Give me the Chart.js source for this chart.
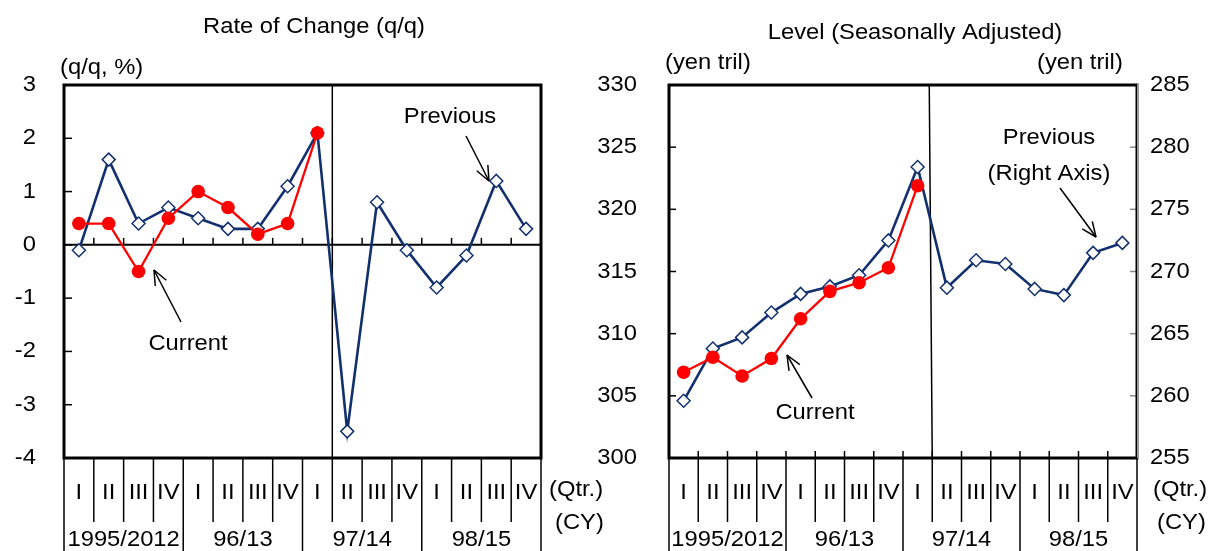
<!DOCTYPE html>
<html>
<head>
<meta charset="utf-8">
<script src="https://cdn.jsdelivr.net/npm/chart.js@4.4.1/dist/chart.umd.min.js"></script>
<style>
  body { margin: 0; background: #fff; }
  #wrap { position: relative; width: 1212px; height: 551px; }
  #wrap canvas { position: absolute; left: 0; top: 0; }
</style>
</head>
<body>
<div id="wrap">
  <canvas id="rateChart" width="1212" height="551"></canvas>
  <canvas id="levelChart" width="1212" height="551"></canvas>
</div>
<script>
const quarters = ['I', 'II', 'III', 'IV', 'I', 'II', 'III', 'IV', 'I', 'II', 'III', 'IV', 'I', 'II', 'III', 'IV'];
const years = ['1995/2012', '96/13', '97/14', '98/15'];

// rate of change (q/q, %)
const rateCurrent = [0.4, 0.4, -0.5, 0.5, 1.0, 0.7, 0.2, 0.4, 2.1];
const ratePrevious = [-0.1, 1.6, 0.4, 0.7, 0.5, 0.3, 0.3, 1.1, 2.1, -3.5, 0.8, -0.1, -0.8, -0.2, 1.2, 0.3];
const rateTicks = [3, 2, 1, 0, -1, -2, -3, -4];

// level, yen tril (current on left axis, previous on right axis)
const levelCurrent = [306.9, 308.1, 306.6, 308.0, 311.2, 313.4, 314.1, 315.3, 321.9];
const levelPrevious = [259.6, 263.8, 264.7, 266.7, 268.2, 268.8, 269.7, 272.5, 278.4, 268.7, 270.9, 270.6, 268.6, 268.1, 271.5, 272.3];
const levelLeftTicks = [330, 325, 320, 315, 310, 305, 300];
const levelRightTicks = [285, 280, 275, 270, 265, 260, 255];

const NAVY = '#12306e';
const RED = '#ff0000';
const FONT = '22px "Liberation Sans", Arial, sans-serif';

function txt(ctx, s, x, y, align) {
  ctx.save();
  ctx.font = FONT;
  ctx.fillStyle = '#000';
  ctx.textBaseline = 'middle';
  ctx.textAlign = align || 'center';
  ctx.translate(x, y);
  ctx.scale(1.08, 1);
  ctx.fillText(s, 0, 0);
  ctx.restore();
}

function line(ctx, x1, y1, x2, y2, w, color) {
  ctx.save();
  ctx.strokeStyle = color || '#000';
  ctx.lineWidth = w;
  ctx.beginPath();
  ctx.moveTo(x1, y1);
  ctx.lineTo(x2, y2);
  ctx.stroke();
  ctx.restore();
}

// open arrow head at (x2, y2)
function arrow(ctx, x1, y1, x2, y2) {
  const a = Math.atan2(y2 - y1, x2 - x1);
  const h = 16;
  line(ctx, x1, y1, x2, y2, 1.5);
  line(ctx, x2, y2, x2 - h * Math.cos(a - 0.4), y2 - h * Math.sin(a - 0.4), 1.5);
  line(ctx, x2, y2, x2 - h * Math.cos(a + 0.4), y2 - h * Math.sin(a + 0.4), 1.5);
}

function edges(x) {
  const step = x.getPixelForValue(1) - x.getPixelForValue(0);
  const start = x.getPixelForValue(0) - step / 2;
  return quarters.map((q, i) => start + i * step).concat(start + quarters.length * step);
}

function drawBand(ctx, x, a) {
  const e = edges(x);
  e.forEach((px, i) => line(ctx, px, a.bottom, px, i % 4 === 0 ? 551 : 522, 1.5));
  quarters.forEach((q, i) => txt(ctx, q, x.getPixelForValue(i), 493));
  years.forEach((yr, g) => txt(ctx, yr, (e[g * 4] + e[g * 4 + 4]) / 2, 540));
}

const rateFrame = {
  id: 'rateFrame',
  beforeDatasetsDraw(chart) {
    const {ctx, chartArea: a, scales: {x, y}} = chart;
    const e = edges(x);
    const y0 = y.getPixelForValue(0);
    line(ctx, a.left, y0, a.right, y0, 2);
    e.slice(1, -1).forEach(px => line(ctx, px, y0, px, y0 - 7, 1.5));
    rateTicks.forEach(v => line(ctx, a.left, y.getPixelForValue(v), a.left + 8, y.getPixelForValue(v), 1.5));
    line(ctx, e[9], a.top, e[9], a.bottom, 1.5);
    ctx.save();
    ctx.lineWidth = 3;
    ctx.strokeStyle = '#000';
    ctx.strokeRect(a.left, a.top, a.width, a.height);
    ctx.restore();
  },
  afterDraw(chart) {
    const {ctx, chartArea: a, scales: {x, y}} = chart;
    rateTicks.forEach(v => txt(ctx, String(v), 36, y.getPixelForValue(v), 'right'));
    drawBand(ctx, x, a);
    txt(ctx, 'Rate of Change (q/q)', 314, 27);
    txt(ctx, '(q/q, %)', 60, 68, 'left');
    txt(ctx, '(Qtr.)', 549, 490, 'left');
    txt(ctx, '(CY)', 555, 523, 'left');
    txt(ctx, 'Previous', 450, 117);
    arrow(ctx, 466, 136, 489, 181);
    txt(ctx, 'Current', 188, 344);
    arrow(ctx, 181, 322, 154, 270);
  }
};

const levelFrame = {
  id: 'levelFrame',
  beforeDatasetsDraw(chart) {
    const {ctx, chartArea: a, scales: {x, yL, yR}} = chart;
    const e = edges(x);
    e.slice(1, -1).forEach(px => line(ctx, px, a.bottom, px, a.bottom - 7, 1.5));
    levelLeftTicks.forEach(v => line(ctx, a.left, yL.getPixelForValue(v), a.left + 7, yL.getPixelForValue(v), 1.5));
    levelRightTicks.forEach(v => line(ctx, a.right, yR.getPixelForValue(v), a.right - 7, yR.getPixelForValue(v), 1.5, '#888'));
    line(ctx, e[9] - 3, a.top, e[9], a.bottom, 1.5);
    ctx.save();
    ctx.lineWidth = 3;
    ctx.strokeStyle = '#000';
    ctx.strokeRect(a.left, a.top, a.width, a.height);
    ctx.restore();
    line(ctx, a.right + 1, a.top - 1, a.right + 1, a.bottom + 1, 2, '#999');
  },
  afterDraw(chart) {
    const {ctx, chartArea: a, scales: {x, yL, yR}} = chart;
    levelLeftTicks.forEach(v => txt(ctx, String(v), 637, yL.getPixelForValue(v), 'right'));
    levelRightTicks.forEach(v => txt(ctx, String(v), 1150, yR.getPixelForValue(v), 'left'));
    drawBand(ctx, x, a);
    txt(ctx, 'Level (Seasonally Adjusted)', 915, 33);
    txt(ctx, '(yen tril)', 665, 63, 'left');
    txt(ctx, '(yen tril)', 1037, 63, 'left');
    txt(ctx, '(Qtr.)', 1153, 490, 'left');
    txt(ctx, '(CY)', 1157, 523, 'left');
    txt(ctx, 'Previous', 1049, 138);
    txt(ctx, '(Right Axis)', 1049, 174);
    arrow(ctx, 1060, 188, 1096, 237);
    txt(ctx, 'Current', 815, 413);
    arrow(ctx, 812, 398, 787, 355);
  }
};

const baseOptions = (padding, scales) => ({
  responsive: false,
  animation: false,
  events: [],
  layout: { padding: padding },
  scales: scales,
  plugins: { legend: { display: false }, tooltip: { enabled: false } }
});

new Chart(document.getElementById('rateChart'), {
  type: 'line',
  data: {
    labels: quarters,
    datasets: [
      {
        label: 'Current', data: rateCurrent,
        borderColor: RED, borderWidth: 2.3, tension: 0,
        pointStyle: 'circle', pointRadius: 6.8,
        pointBackgroundColor: RED, pointBorderColor: RED, pointBorderWidth: 0
      },
      {
        label: 'Previous', data: ratePrevious,
        borderColor: NAVY, borderWidth: 2.6, tension: 0,
        pointStyle: 'rectRot', pointRadius: 6.5,
        pointBackgroundColor: '#fff', pointBorderColor: NAVY, pointBorderWidth: 1.5
      }
    ]
  },
  options: baseOptions(
    { left: 64, right: 1212 - 541, top: 85, bottom: 551 - 458 },
    {
      x: { display: false, offset: true },
      y: { display: false, min: -4, max: 3 }
    }
  ),
  plugins: [rateFrame]
});

new Chart(document.getElementById('levelChart'), {
  type: 'line',
  data: {
    labels: quarters,
    datasets: [
      {
        label: 'Current', data: levelCurrent, yAxisID: 'yL',
        borderColor: RED, borderWidth: 2.3, tension: 0,
        pointStyle: 'circle', pointRadius: 6.8,
        pointBackgroundColor: RED, pointBorderColor: RED, pointBorderWidth: 0
      },
      {
        label: 'Previous (Right Axis)', data: levelPrevious, yAxisID: 'yR',
        borderColor: NAVY, borderWidth: 2.6, tension: 0,
        pointStyle: 'rectRot', pointRadius: 6.5,
        pointBackgroundColor: '#fff', pointBorderColor: NAVY, pointBorderWidth: 1.5
      }
    ]
  },
  options: baseOptions(
    { left: 669, right: 1212 - 1137, top: 85, bottom: 551 - 458 },
    {
      x: { display: false, offset: true },
      yL: { display: false, position: 'left', min: 300, max: 330 },
      yR: { display: false, position: 'right', min: 255, max: 285 }
    }
  ),
  plugins: [levelFrame]
});
</script>
</body>
</html>
